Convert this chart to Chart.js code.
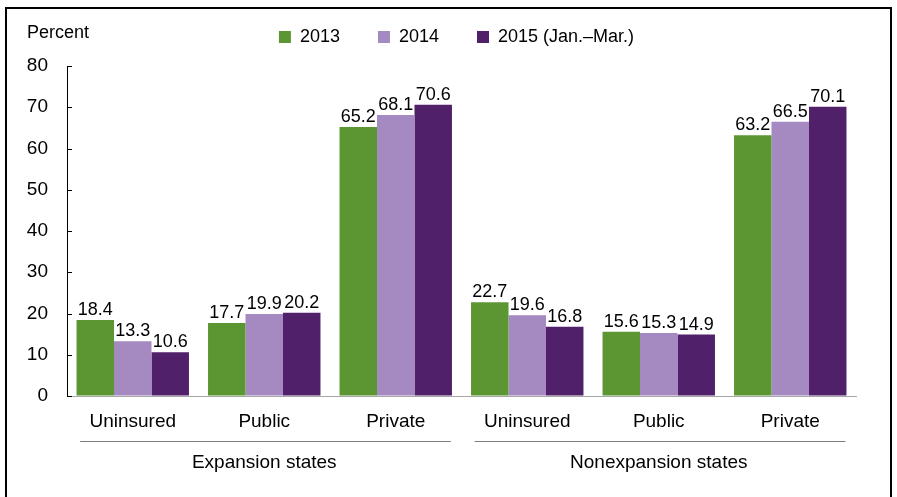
<!DOCTYPE html>
<html>
<head>
<meta charset="utf-8">
<script src="https://cdn.jsdelivr.net/npm/chart.js@4"></script>
<style>
body{margin:0;background:#fff}
.wrap{width:897px;height:497px}
</style>
</head>
<body>
<div class="wrap"><canvas id="chart"></canvas></div>
<script>
const categories = ['Uninsured','Public','Private','Uninsured','Public','Private']
const groups = ['Expansion states','Nonexpansion states']
const years = ['2013','2014','2015 (Jan.\u2013Mar.)']
const data2013 = [18.4,17.7,65.2,22.7,15.6,63.2]
const data2014 = [13.3,19.9,68.1,19.6,15.3,66.5]
const data2015 = [10.6,20.2,70.6,16.8,14.9,70.1]
const yTicks = [0,10,20,30,40,50,60,70,80]

const font = "'Liberation Sans', Arial, sans-serif"
Chart.defaults.font.family = font
Chart.defaults.color = '#000'

// labels, group lines, frame
const extras = {
    id: 'extras',
    afterDraw(chart){
        const ctx = chart.ctx
        const x = chart.scales.x
        const y = chart.scales.y
        const area = chart.chartArea
        ctx.save()

        ctx.strokeStyle = '#000'
        ctx.lineWidth = 1
        yTicks.forEach(function(v){
            const py = Math.round(y.getPixelForValue(v)) + 0.5
            ctx.beginPath()
            ctx.moveTo(area.left, py)
            ctx.lineTo(area.left + 5, py)
            ctx.stroke()
        })

        ctx.fillStyle = '#000'
        ctx.font = '18px ' + font
        ctx.textAlign = 'center'
        ctx.textBaseline = 'alphabetic'
        chart.data.datasets.forEach(function(ds, i){
            chart.getDatasetMeta(i).data.forEach(function(bar, j){
                ctx.fillText(ds.data[j].toFixed(1), bar.x, bar.y - 5)
            })
        })

        const w = x.getPixelForValue(1) - x.getPixelForValue(0)
        ctx.font = '19px ' + font
        ctx.textBaseline = 'middle'
        groups.forEach(function(g, k){
            const first = x.getPixelForValue(k * 3)
            const last = x.getPixelForValue(k * 3 + 2)
            ctx.strokeStyle = '#7f7f7f'
            ctx.beginPath()
            ctx.moveTo(first - 0.4 * w, 441.5)
            ctx.lineTo(last + 0.42 * w, 441.5)
            ctx.stroke()
            ctx.fillText(g, x.getPixelForValue(k * 3 + 1), 463)
        })

        ctx.font = '18px ' + font
        ctx.textAlign = 'left'
        ctx.fillText('Percent', 27, 33)

        ctx.strokeStyle = '#000'
        ctx.lineWidth = 2
        ctx.strokeRect(6, 8, 885, 500)
        ctx.restore()
    }
}

new Chart(document.getElementById('chart'), {
    type: 'bar',
    data: {
        labels: categories,
        datasets: [
            {label: years[0], data: data2013, backgroundColor: '#5c9633'},
            {label: years[1], data: data2014, backgroundColor: '#a589c1'},
            {label: years[2], data: data2015, backgroundColor: '#50216a'}
        ]
    },
    options: {
        responsive: true,
        maintainAspectRatio: false,
        animation: false,
        layout: {padding: {left: 0, right: 41, top: 0, bottom: 0}},
        datasets: {bar: {categoryPercentage: 0.855, barPercentage: 1}},
        scales: {
            x: {
                grid: {drawOnChartArea: false, drawTicks: false},
                border: {color: '#a6a6a6', width: 1},
                ticks: {font: {size: 19}, padding: 14, color: '#000', maxRotation: 0},
                afterFit: function(s){ s.height = 101 }
            },
            y: {
                min: 0,
                max: 80,
                grid: {drawOnChartArea: false, drawTicks: false},
                border: {color: '#000', width: 1},
                ticks: {stepSize: 10, font: {size: 19}, padding: 19, color: '#000'},
                afterFit: function(s){ s.width = 67 }
            }
        },
        plugins: {
            legend: {
                position: 'top',
                fullSize: false,
                labels: {
                    boxWidth: 12,
                    boxHeight: 12,
                    padding: 28,
                    font: {size: 18},
                    generateLabels: function(chart){
                        const items = Chart.defaults.plugins.legend.labels.generateLabels(chart)
                        items.forEach(function(it){
                            it.text = it.text + '  '
                        })
                        return items
                    }
                }
            },
            subtitle: {display: true, text: '', weight: 500, padding: 0, font: {size: 10, lineHeight: 1}},
            tooltip: {enabled: false}
        }
    },
    plugins: [extras]
})
</script>
</body>
</html>
